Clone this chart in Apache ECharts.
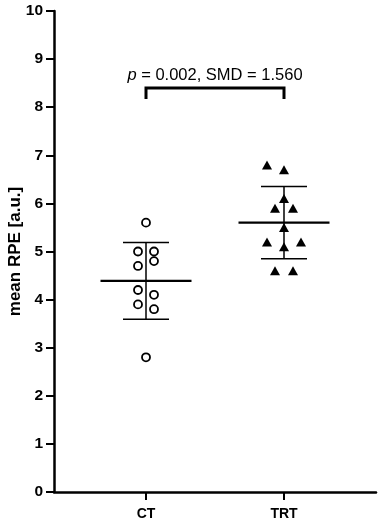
<!DOCTYPE html>
<html>
<head>
<meta charset="utf-8">
<script src="https://cdn.jsdelivr.net/npm/echarts@6/dist/echarts.min.js"></script>
<style>
html, body { margin: 0; padding: 0; background: #fff; }
#main { width: 383px; height: 524px; }
</style>
</head>
<body>
<div id="main"></div>
<script>
// values
var groups = ['CT', 'TRT'];
var ctValues = [5.6, 5.0, 5.0, 4.8, 4.7, 4.2, 4.1, 3.9, 3.8, 2.8];
var trtValues = [6.8, 6.7, 6.1, 5.9, 5.9, 5.5, 5.2, 5.2, 5.1, 4.6, 4.6];
var yTicks = [0, 1, 2, 3, 4, 5, 6, 7, 8, 9, 10];
var statText = ['p', ' = 0.002, SMD = 1.560'];
var bracketY = 8.4;

// layout: where each group sits on the x value axis, jitter in px
var groupX = [1, 2.5];
var ctJitter = [0, -8, 8, 8, -8, -8, 8, -8, 8, 0];
var trtJitter = [-17, 0, 0, -9, 9, 0, -17, 17, 0, -9, 9];
var font = 'Liberation Sans, Arial, sans-serif';

function mean(a) { return a.reduce(function (s, v) { return s + v; }, 0) / a.length; }
function sd(a) {
  var m = mean(a);
  return Math.sqrt(a.reduce(function (s, v) { return s + (v - m) * (v - m); }, 0) / (a.length - 1));
}

var myChart = echarts.init(document.getElementById('main'));

var ctData = ctValues.map(function (v, i) {
  return { value: [groupX[0], v], symbolOffset: [ctJitter[i], 0] };
});
var trtData = trtValues.map(function (v, i) {
  return { value: [groupX[1], v], symbolOffset: [trtJitter[i], 0] };
});
var summary = [ctValues, trtValues].map(function (a, i) {
  return [groupX[i], mean(a), sd(a)];
});

var option = {
  animation: false,
  grid: { left: 54, right: 7, top: 11, bottom: 32, containLabel: false, outerBoundsMode: 'none' },
  xAxis: {
    type: 'value',
    min: 0,
    max: 3.5,
    splitLine: { show: false },
    axisLine: { lineStyle: { color: '#000', width: 2.5 } },
    axisTick: { show: true, length: 8, customValues: groupX, lineStyle: { color: '#000', width: 2 } },
    axisLabel: {
      customValues: groupX,
      formatter: function (v) { return groups[groupX.indexOf(v)] || ''; },
      color: '#000', fontWeight: 'bold', fontSize: 14, fontFamily: font, margin: 15
    }
  },
  yAxis: {
    type: 'value',
    min: yTicks[0],
    max: yTicks[yTicks.length - 1],
    interval: 1,
    name: 'mean RPE [a.u.]',
    nameLocation: 'middle',
    nameGap: 30,
    nameMoveOverlap: false,
    nameTextStyle: { color: '#000', fontWeight: 'bold', fontSize: 17, fontFamily: font },
    splitLine: { show: false },
    axisLine: { show: true, lineStyle: { color: '#000', width: 2.5 } },
    axisTick: { show: true, length: 8, lineStyle: { color: '#000', width: 2 } },
    axisLabel: { color: '#000', fontWeight: 'bold', fontSize: 15.5, fontFamily: font, margin: 11 }
  },
  series: [
    {
      name: 'summary',
      type: 'custom',
      data: summary,
      z: 1,
      renderItem: function (params, api) {
        var x = api.value(0), m = api.value(1), s = api.value(2);
        var c = api.coord([x, m]);
        var top = api.coord([x, m + s]);
        var bot = api.coord([x, m - s]);
        var halfMean = 45.5, halfCap = 23;
        var st = { stroke: '#000', lineWidth: 1.5 };
        return {
          type: 'group',
          children: [
            { type: 'line', shape: { x1: c[0] - halfMean, y1: c[1], x2: c[0] + halfMean, y2: c[1] }, style: { stroke: '#000', lineWidth: 2.2 } },
            { type: 'line', shape: { x1: c[0], y1: top[1], x2: c[0], y2: bot[1] }, style: st },
            { type: 'line', shape: { x1: c[0] - halfCap, y1: top[1], x2: c[0] + halfCap, y2: top[1] }, style: st },
            { type: 'line', shape: { x1: c[0] - halfCap, y1: bot[1], x2: c[0] + halfCap, y2: bot[1] }, style: st }
          ]
        };
      }
    },
    {
      name: 'CT',
      type: 'scatter',
      data: ctData,
      symbol: 'circle',
      symbolSize: 8,
      z: 3,
      itemStyle: { color: '#fff', borderColor: '#000', borderWidth: 1.8, opacity: 1 }
    },
    {
      name: 'TRT',
      type: 'scatter',
      data: trtData,
      symbol: 'triangle',
      symbolSize: [10, 9],
      z: 3,
      itemStyle: { color: '#000', opacity: 1 }
    },
    {
      name: 'bracket',
      type: 'custom',
      data: [[groupX[0], groupX[1], bracketY]],
      z: 2,
      renderItem: function (params, api) {
        var a = api.coord([api.value(0), api.value(2)]);
        var b = api.coord([api.value(1), api.value(2)]);
        var leg = 11;
        return {
          type: 'group',
          children: [
            {
              type: 'polyline',
              shape: { points: [[a[0], a[1] + leg], [a[0], a[1]], [b[0], b[1]], [b[0], b[1] + leg]] },
              style: { stroke: '#000', lineWidth: 3, fill: null }
            },
            {
              type: 'text',
              x: (a[0] + b[0]) / 2,
              y: a[1] - 13,
              style: {
                text: '{i|' + statText[0] + '}' + statText[1],
                align: 'center',
                verticalAlign: 'middle',
                fill: '#000',
                fontSize: 16.5,
                fontFamily: font,
                rich: { i: { fontStyle: 'italic', fontSize: 16.5, fontFamily: font } }
              }
            }
          ]
        };
      }
    }
  ]
};

myChart.setOption(option);
</script>
</body>
</html>
